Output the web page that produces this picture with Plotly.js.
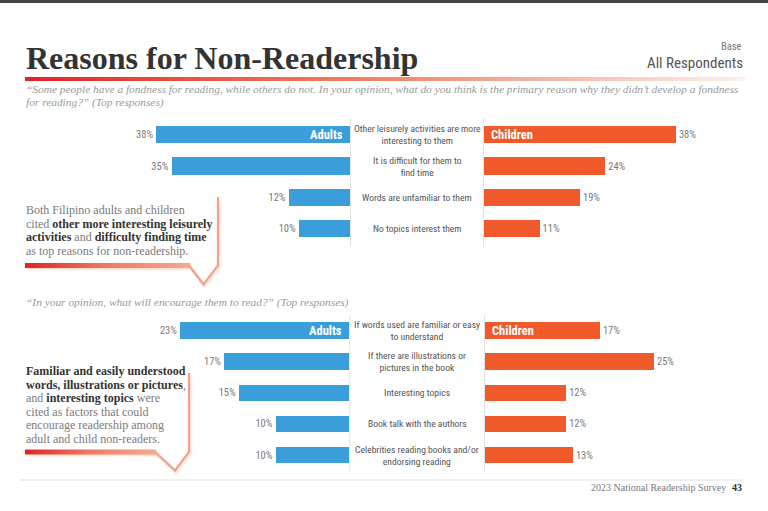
<!DOCTYPE html>
<html><head><meta charset="utf-8">
<script src="https://cdn.plot.ly/plotly-3.0.1.min.js"></script>
<style>html,body{margin:0;padding:0;background:#fff;}#chart{width:768px;height:511px;}</style>
</head><body><div id="chart"></div>
<script>
// ---- data ----
const topReasons = ["Other leisurely activities are more<br>interesting to them","It is difficult for them to<br>find time","Words are unfamiliar to them","No topics interest them"];
const topAdults = [38,35,12,10];
const topChildren = [38,24,19,11];
const encReasons = ["If words used are familiar or easy<br>to understand","If there are illustrations or<br>pictures in the book","Interesting topics","Book talk with the authors","Celebrities reading books and/or<br>endorsing reading"];
const encAdults = [23,17,15,10,10];
const encChildren = [17,25,12,12,13];
const groupNames = ["Adults","Children"];

// ---- layout helpers ----
const W=768,H=511;
const px=x=>x/W, py=y=>1-y/H;
const BLUE='#3a9edb', ORANGE='#f0592a';
const NARROW='"Roboto Condensed","DejaVu Sans Condensed","Liberation Sans",sans-serif';
const SERIF='"Liberation Serif","DejaVu Serif",serif';

function barTrace(x,y,xa,ya,color,w){
  return {type:'bar',orientation:'h',x:x,y:y,xaxis:xa,yaxis:ya,width:w,
    marker:{color:color,line:{width:0}},
    texttemplate:'%{x}%',textposition:'outside',constraintext:'none',cliponaxis:false,
    textfont:{family:NARROW,size:10.5,color:'#7a7a7a'},hoverinfo:'skip'};
}
const data=[
  barTrace(topAdults,topReasons,'x','y',BLUE,0.545),
  barTrace(topChildren,topReasons,'x2','y',ORANGE,0.545),
  barTrace(encAdults,encReasons,'x3','y2',BLUE,0.537),
  barTrace(encChildren,encReasons,'x4','y2',ORANGE,0.537)
];

const hid={visible:false,fixedrange:true,showgrid:false,zeroline:false};
const layout={
  width:W,height:H,margin:{l:0,r:0,t:0,b:0},showlegend:false,hovermode:false,
  paper_bgcolor:'#ffffff',plot_bgcolor:'rgba(0,0,0,0)',bargap:0,
  xaxis:Object.assign({domain:[0,px(350)],range:[350/5.095,0],anchor:'y'},hid),
  xaxis2:Object.assign({domain:[px(484),1],range:[0,284/5.05],anchor:'y'},hid),
  xaxis3:Object.assign({domain:[0,px(349.3)],range:[349.3/7.35,0],anchor:'y2'},hid),
  xaxis4:Object.assign({domain:[px(485),1],range:[0,283/6.76],anchor:'y2'},hid),
  yaxis:Object.assign({domain:[py(244.2),py(119.1)],type:'category',categoryorder:'array',categoryarray:topReasons,range:[3.5,-0.5]},hid),
  yaxis2:Object.assign({domain:[py(470.6),py(315.2)],type:'category',categoryorder:'array',categoryarray:encReasons,range:[4.5,-0.5]},hid),
  shapes:[],annotations:[],images:[]
};

// frame & dividers
layout.shapes.push({type:'rect',xref:'paper',yref:'paper',x0:0,x1:1,y0:py(3),y1:1,fillcolor:'#444',line:{width:0}});
[[350.5,118,247],[483.5,118,247],[349.8,315,471],[484.5,315,471]].forEach(d=>{
  layout.shapes.push({type:'line',xref:'paper',yref:'paper',x0:px(d[0]),x1:px(d[0]),y0:py(d[1]),y1:py(d[2]),line:{color:'#e2e2e2',width:1}});
});
layout.shapes.push({type:'line',xref:'paper',yref:'paper',x0:px(20),x1:px(743),y0:py(480),y1:py(480),line:{color:'#e0e0e0',width:1}});

// decorative gradients (title rule, callout outlines)
const svg=`<svg xmlns='http://www.w3.org/2000/svg' width='768' height='511' viewBox='0 0 768 511' preserveAspectRatio='none'>
<defs>
<linearGradient id='g1' x1='0' x2='1' y1='0' y2='0'><stop offset='0' stop-color='#e2222a'/><stop offset='0.12' stop-color='#e4402f'/><stop offset='0.5' stop-color='#f0866a'/><stop offset='1' stop-color='#fdf0ea'/></linearGradient>
<linearGradient id='g2' x1='0' x2='1' y1='0' y2='0'><stop offset='0' stop-color='#e2222a'/><stop offset='0.5' stop-color='#ee7b63'/><stop offset='1' stop-color='#f5aa92'/></linearGradient>
<filter id='sh' x='-20%' y='-20%' width='140%' height='140%'><feDropShadow dx='1' dy='1.5' stdDeviation='1.2' flood-color='#f2a58c' flood-opacity='0.45'/></filter>
</defs>
<rect x='25' y='77' width='720' height='4' fill='url(#g1)'/>
<g filter='url(#sh)'>
<rect x='25' y='263' width='165' height='5' fill='url(#g2)'/>
<polyline points='189,265.5 203.5,284.5 218,265.5 218,197' fill='none' stroke='#f3a288' stroke-width='2.2' stroke-linejoin='miter'/>
<rect x='25' y='449.5' width='131' height='5' fill='url(#g2)'/>
<polyline points='155,452 175,470.5 189,452 189,373' fill='none' stroke='#f3a288' stroke-width='2.2' stroke-linejoin='miter'/>
</g>
</svg>`;
layout.images.push({source:'data:image/svg+xml;charset=utf-8,'+encodeURIComponent(svg),xref:'paper',yref:'paper',x:0,y:1,sizex:1,sizey:1,xanchor:'left',yanchor:'top',sizing:'stretch',layer:'below'});

function ann(o){layout.annotations.push(Object.assign({showarrow:false,xref:'paper',yref:'paper'},o));}
// header
ann({x:px(24),y:py(58),xanchor:'left',yanchor:'middle',text:'<b>Reasons for Non-Readership</b>',font:{family:SERIF,size:32,color:'#333'}});
ann({x:px(744),y:py(46),xanchor:'right',yanchor:'middle',text:'Base',font:{family:NARROW,size:10.5,color:'#777'}});
ann({x:px(745),y:py(63),xanchor:'right',yanchor:'middle',text:'All Respondents',font:{family:NARROW,size:15,color:'#555'}});
const subFont={family:SERIF,size:11.4,color:'#999'};
ann({x:px(24),y:py(89),xanchor:'left',yanchor:'middle',text:'<i>“Some people have a fondness for reading, while others do not. In your opinion, what do you think is the primary reason why they didn’t develop a fondness</i>',font:subFont});
ann({x:px(24),y:py(102),xanchor:'left',yanchor:'middle',text:'<i>for reading?” (Top responses)</i>',font:subFont});
ann({x:px(24),y:py(302),xanchor:'left',yanchor:'middle',text:'<i>“In your opinion, what will encourage them to read?” (Top responses)</i>',font:subFont});

// center category labels
const cfont={family:NARROW,size:9.6,color:'#555'};
topReasons.forEach((t,i)=>ann({x:px(417),yref:'y',y:i,xanchor:'center',yanchor:'middle',align:'center',text:t,font:cfont}));
encReasons.forEach((t,i)=>ann({x:px(417),yref:'y2',y:i,xanchor:'center',yanchor:'middle',align:'center',text:t,font:cfont}));

// group labels inside first bars
const gfont={family:NARROW,size:12.5,color:'#fff'};
ann({xref:'x',yref:'y',x:0,y:0,xanchor:'right',yanchor:'middle',xshift:-5,text:'<b>'+groupNames[0]+'</b>',font:gfont});
ann({xref:'x2',yref:'y',x:0,y:0,xanchor:'left',yanchor:'middle',xshift:5,text:'<b>'+groupNames[1]+'</b>',font:gfont});
ann({xref:'x3',yref:'y2',x:0,y:0,xanchor:'right',yanchor:'middle',xshift:-5,text:'<b>'+groupNames[0]+'</b>',font:gfont});
ann({xref:'x4',yref:'y2',x:0,y:0,xanchor:'left',yanchor:'middle',xshift:5,text:'<b>'+groupNames[1]+'</b>',font:gfont});

// callouts
const G='#7a7a7a', B='#333';
const c1=[
 `<span style="color:${G}">Both Filipino adults and children</span>`,
 `<span style="color:${G}">cited </span><b style="color:${B}">other more interesting leisurely</b>`,
 `<b style="color:${B}">activities</b><span style="color:${G}"> and </span><b style="color:${B}">difficulty finding time</b>`,
 `<span style="color:${G}">as top reasons for non-readership.</span>`
];
const c1y=[210,223.5,237,250.5];
c1.forEach((t,i)=>ann({x:px(24),y:py(c1y[i]),xanchor:'left',yanchor:'middle',text:t,font:{family:SERIF,size:12,color:G}}));
const c2=[
 `<b style="color:${B}">Familiar and easily understood</b>`,
 `<b style="color:${B}">words, illustrations or pictures</b><span style="color:${G}">,</span>`,
 `<span style="color:${G}">and </span><b style="color:${B}">interesting topics</b><span style="color:${G}"> were</span>`,
 `<span style="color:${G}">cited as factors that could</span>`,
 `<span style="color:${G}">encourage readership among</span>`,
 `<span style="color:${G}">adult and child non-readers.</span>`
];
const c2y=[371,384.5,398,411.5,425,438.5];
c2.forEach((t,i)=>ann({x:px(24),y:py(c2y[i]),xanchor:'left',yanchor:'middle',text:t,font:{family:SERIF,size:12,color:G}}));

// footer
ann({x:px(728),y:py(487),xanchor:'right',yanchor:'middle',text:'2023 National Readership Survey',font:{family:SERIF,size:10,color:'#777'}});
ann({x:px(744),y:py(487),xanchor:'right',yanchor:'middle',text:'<b>43</b>',font:{family:SERIF,size:10,color:'#333'}});

Plotly.newPlot('chart',data,layout,{displayModeBar:false,staticPlot:true});
</script></body></html>
